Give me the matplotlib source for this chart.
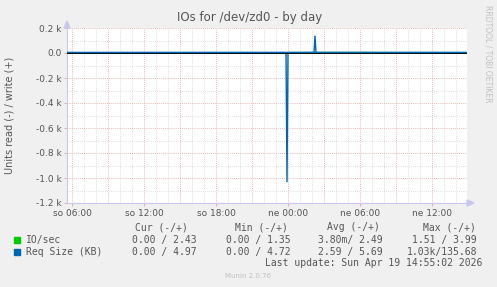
import matplotlib
matplotlib.use("Agg")
import matplotlib.pyplot as plt
import numpy as np

# ---- data (hours since Saturday 00:00) ----
x_start_h = 5.5833   # so 05:35
x_end_h = 38.9167    # ne 14:55

io_t = [5.5833, 23.9167, 26.25, 38.9167]
io_read = [0.0, 1.51, 0.0, 0.0]
io_write = [2.5, 2.5, 3.99, 2.43]

req_read_t = [5.5833, 23.8333, 23.9167, 24.0, 38.9167]
req_read = [0.0, 0.0, 1030.0, 0.0, 0.0]
req_write_t = [5.5833, 26.1667, 26.25, 26.3333, 38.9167]
req_write = [4.7, 5.0, 135.68, 5.0, 4.97]

tick_hours = [6, 12, 18, 24, 30, 36]
tick_labels = ["so 06:00", "so 12:00", "so 18:00", "ne 00:00", "ne 06:00", "ne 12:00"]
ytick_vals = [200, 0, -200, -400, -600, -800, -1000, -1200]
ytick_labels = ["0.2 k", "0.0", "-0.2 k", "-0.4 k", "-0.6 k", "-0.8 k", "-1.0 k", "-1.2 k"]

legend_names = ["IO/sec", "Req Size (KB)"]
legend_colors = ["#00CC00", "#0066B3"]
cur_vals = ["0.00 / 2.43", "0.00 / 4.97"]
min_vals = ["0.00 / 1.35", "0.00 / 4.72"]
avg_vals = ["3.80m/ 2.49", "2.59 / 5.69"]
max_vals = ["1.51 / 3.99", "1.03k/135.68"]

W, H = 497, 287
fig = plt.figure(figsize=(W / 100, H / 100), dpi=100, facecolor="#F0F0F0")

def fx(px):
    return px / W

def fy(py):
    return 1 - py / H

left, right, top, bottom = 67, 467, 28, 203
ax = fig.add_axes([fx(left), fy(bottom), (right - left) / W, (bottom - top) / H])
ax.set_facecolor("white")
ax.set_xlim(x_start_h, x_end_h)
ax.set_ylim(-1200, 200)

txt = "#555555"
# grid
for h in np.arange(6, 39, 1):
    major = (h % 3 == 0)
    ax.axvline(h, color="#E8A0A0" if major else "#D4D4D4", lw=0.6,
               ls=(0, (1, 1.5)), zorder=1)
for v in np.arange(-1200, 201, 100):
    major = (v % 200 == 0)
    ax.axhline(v, color="#E8A0A0" if major else "#D4D4D4", lw=0.6,
               ls=(0, (1, 1.5)), zorder=1)

# data
ax.plot(io_t, [-v for v in io_read], color=legend_colors[0], lw=1, zorder=3)
ax.plot(io_t, io_write, color=legend_colors[0], lw=1, zorder=3)
ax.plot(req_read_t, [-v for v in req_read], color=legend_colors[1], lw=1, zorder=4)
ax.plot(req_write_t, req_write, color=legend_colors[1], lw=1, zorder=4)
ax.axhline(0, color="black", lw=0.6, zorder=5)

for s in ["top", "right"]:
    ax.spines[s].set_visible(False)
for s in ["left", "bottom"]:
    ax.spines[s].set_color("#C8C8F0")
    ax.spines[s].set_linewidth(0.8)

ax.set_xticks(tick_hours)
ax.set_xticklabels(tick_labels, fontsize=6.5, color=txt)
ax.set_yticks(ytick_vals)
ax.set_yticklabels(ytick_labels, fontsize=6.5, color=txt)
ax.tick_params(axis="both", length=2, width=0.6, color="#E8A0A0", pad=2)

# axis arrows
fig.patches.append(plt.Polygon([[fx(64), fy(28)], [fx(70), fy(28)], [fx(67), fy(21)]],
                               closed=True, color="#C8C8F0", transform=fig.transFigure))
fig.patches.append(plt.Polygon([[fx(467), fy(200)], [fx(467), fy(206)], [fx(474), fy(203)]],
                               closed=True, color="#C8C8F0", transform=fig.transFigure))

fig.text(fx(250), fy(18), "IOs for /dev/zd0 - by day", ha="center", va="center",
         fontsize=8.5, color=txt)
fig.text(fx(10), fy(115.5), "Units read (-) / write (+)", rotation=90, ha="center",
         va="center", fontsize=7, color=txt)
fig.text(fx(488), fy(5), "RRDTOOL / TOBI OETIKER", rotation=270, ha="center", va="top",
         fontsize=5.5, color="#C0C0C0")

mono = "DejaVu Sans Mono"
fs = 7
hy = 227
for xr, lab in zip([188, 288, 380, 476], ["Cur (-/+)", "Min (-/+)", "Avg (-/+)", "Max (-/+)"]):
    fig.text(fx(xr), fy(hy), lab, ha="right", va="center", fontsize=fs, family=mono, color=txt)
rows_y = [240, 252]
for i in range(2):
    y = rows_y[i]
    fig.patches.append(plt.Rectangle((fx(14), fy(y + 3)), 6 / W, 6 / H,
                                     color=legend_colors[i], transform=fig.transFigure))
    fig.text(fx(26), fy(y), legend_names[i], ha="left", va="center", fontsize=fs,
             family=mono, color=txt)
    for xr, vals in zip([197, 291, 383, 477], [cur_vals, min_vals, avg_vals, max_vals]):
        fig.text(fx(xr), fy(y), vals[i], ha="right", va="center", fontsize=fs,
                 family=mono, color=txt)
fig.text(fx(482), fy(263), "Last update: Sun Apr 19 14:55:02 2026", ha="right", va="center",
         fontsize=fs, family=mono, color=txt)
fig.text(fx(248), fy(276), "Munin 2.0.76", ha="center", va="center", fontsize=5,
         color="#C0C0C0")

fig.savefig("out.png", dpi=100, facecolor=fig.get_facecolor())
